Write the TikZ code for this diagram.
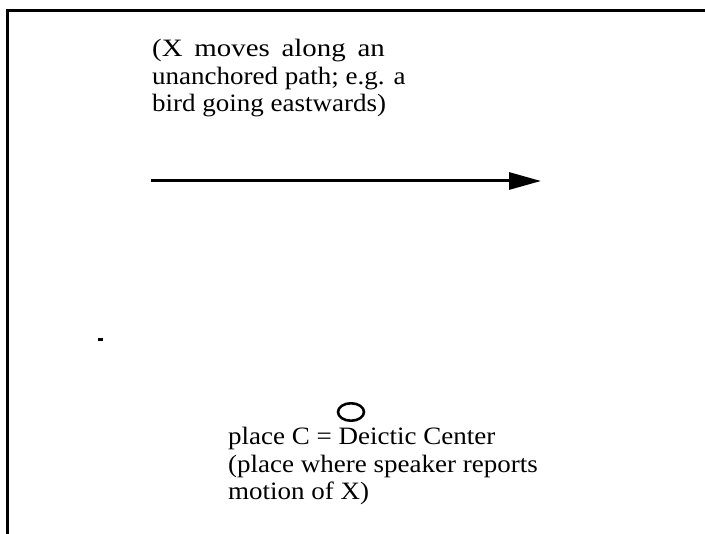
\documentclass[tikz,border=0pt]{standalone}
\usepackage{fontspec}
\setmainfont[FakeStretch=1.08]{Liberation Serif}
\usetikzlibrary{arrows.meta,shapes.geometric}
\newcommand{\widesp}{\hspace{11pt}}
\begin{document}
\begin{tikzpicture}[x=1pt,y=-1pt,
  frame/.style={line width=3.2pt},
  caption/.style={font=\fontsize{25}{27.5}\selectfont, align=left,
    inner sep=0pt, anchor=base west},
  motion/.style={line width=3pt, -{Triangle[length=32pt,width=17pt]}},
  placemark/.style={draw, ellipse, line width=2.6pt, inner sep=0pt,
    minimum width=26pt, minimum height=17.5pt}]
\useasboundingbox (0,0) rectangle (705,534);
% open frame: left side and top only
\draw[frame] (7.5,534) -- (7.5,10.5) -- (705,10.5);
% description of the motion (anchored at the baseline of its last line)
\node[caption] (desc) at (152,112)
  {\scalebox{1.07}[1]{(X\widesp moves\widesp along\widesp an}\\unanchored path; e.g. a\\bird going eastwards)};
% the unanchored path of X
\coordinate (pathstart) at (151,181);
\coordinate (pathend) at (541,181);
\draw[motion] (pathstart) -- (pathend);
% position of X
\node[fill, inner sep=0pt, minimum width=4.5pt, minimum height=3.5pt] (xpos) at (100.5,339.5) {};
% the deictic center C
\node[placemark] (placeC) at (351,412) {};
\node[caption] (center) at (228,500)
  {place C = Deictic Center\\(place where speaker reports\\motion of X)};
\end{tikzpicture}
\end{document}
